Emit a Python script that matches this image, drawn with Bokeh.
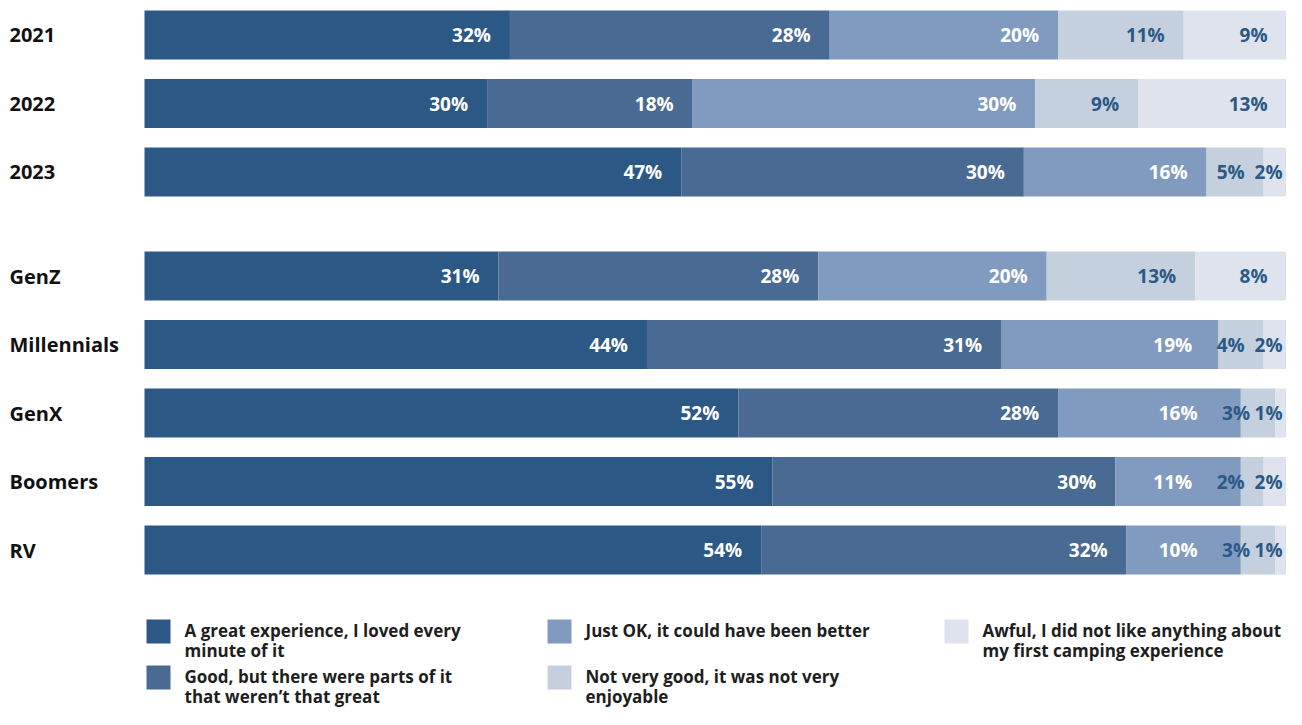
from bokeh.plotting import figure
from bokeh.models import Range1d, ColumnDataSource
from bokeh.core.properties import value
from bokeh.embed import file_html
from bokeh.resources import INLINE

# ---------------- data ----------------
categories = ["2021", "2022", "2023", "GenZ", "Millennials", "GenX", "Boomers", "RV"]
groups = [0, 0, 0, 1, 1, 1, 1, 1]
great = [32, 30, 47, 31, 44, 52, 55, 54]
good = [28, 18, 30, 28, 31, 28, 30, 32]
just_ok = [20, 30, 16, 20, 19, 16, 11, 10]
not_very = [11, 9, 5, 13, 4, 3, 2, 3]
awful = [9, 13, 2, 8, 2, 1, 2, 1]
series_names = [
    "A great experience, I loved every\nminute of it",
    "Good, but there were parts of it\nthat weren\u2019t that great",
    "Just OK, it could have been better",
    "Not very good, it was not very\nenjoyable",
    "Awful, I did not like anything about\nmy first camping experience",
]
series = [great, good, just_ok, not_very, awful]

# ---------------- style ----------------
colors = ["#2C5886", "#496A92", "#819BC0", "#C5D0DF", "#DEE3ED"]
label_colors = ["#FFFFFF", "#FFFFFF", "#FFFFFF", "#2C5886", "#2C5886"]
FONT = "Open Sans"

W, H = 1286, 709
PX0, PX1 = 144.0, 1286.0           # frame px of 0 % and 100 %
PX_PER = (PX1 - PX0) / 100.0
ROW_PX, Y0_PX = 68.5, 34.5         # row pitch and centre of first row (frame px)
GROUP_GAP = 0.52


def xd(px):
    return (px - PX0) / PX_PER


def yd(py):
    return (py - Y0_PX) / ROW_PX


p = figure(width=W, height=H, output_backend="svg", toolbar_location=None,
           x_range=Range1d(xd(0), xd(W)), y_range=Range1d(yd(H), yd(0)),
           min_border=0, outline_line_color=None, background_fill_color="white",
           border_fill_color="white")
p.axis.visible = False
p.grid.visible = False

rows = [i + g * GROUP_GAP for i, g in enumerate(groups)]

# stacked bars
lefts = [0.0] * len(categories)
for k, vals in enumerate(series):
    rights = [l + v for l, v in zip(lefts, vals)]
    p.hbar(y=rows, left=lefts, right=rights, height=49 / ROW_PX,
           fill_color=colors[k], line_color=None)
    lefts = rights

# value labels: right-aligned near segment end, pushed apart when crowded
DIG_W, PCT_W, PAD = 10.9, 16.6, 19.0
lx, ly, lt, lc = [], [], [], []
for r in range(len(categories)):
    vals = [s[r] for s in series]
    ends, acc = [], 0
    for v in vals:
        acc += v
        ends.append(PX0 + acc * PX_PER)
    starts = [PX0] + ends[:-1]
    widths = [len(str(v)) * DIG_W + PCT_W for v in vals]
    n = len(vals)
    right = [0.0] * n
    seg_w = ends[-1] - starts[-1]
    right[-1] = ends[-1] - PAD if seg_w >= widths[-1] + PAD else ends[-1] - 4
    for i in range(n - 2, -1, -1):
        gap = 5 if label_colors[i] == label_colors[i + 1] else 25
        right[i] = min(ends[i] - PAD, right[i + 1] - widths[i + 1] - gap)
    for i, v in enumerate(vals):
        lx.append(xd(right[i]))
        ly.append(rows[r])
        lt.append(f"{v}%")
        lc.append(label_colors[i])

p.text(x="x", y="y", text="t", text_color="c",
       source=ColumnDataSource(dict(x=lx, y=ly, t=lt, c=lc)),
       text_align="right", text_baseline="middle",
       text_font=value(FONT), text_font_style="bold", text_font_size="19px")

# category labels
p.text(x=[xd(9)] * len(categories), y=rows, text=categories,
       text_align="left", text_baseline="middle", text_color="#111111",
       text_font=value(FONT), text_font_style="bold", text_font_size="20px")

# legend (manual, 3 columns x 2 rows, column-major)
col_px = [146, 547, 944]
row_px = [619, 665]
sq_x, sq_y, tx, ty = [], [], [], []
for k in range(len(series)):
    c, rr = divmod(k, 2)
    sq_x.append(xd(col_px[c] + 12))
    sq_y.append(yd(row_px[rr] + 12))
    tx.append(xd(col_px[c] + 38))
    ty.append(yd(row_px[rr] - 1))
p.rect(x=sq_x, y=sq_y, width=24, height=24, width_units="screen",
       height_units="screen", fill_color=colors, line_color=None)
p.text(x=tx, y=ty, text=series_names, text_align="left", text_baseline="top",
       text_color="#1E1E1E", text_font=value(FONT), text_font_style="bold",
       text_font_size="17px", text_line_height=0.88)

open("out.html", "w").write(file_html(p, INLINE))
